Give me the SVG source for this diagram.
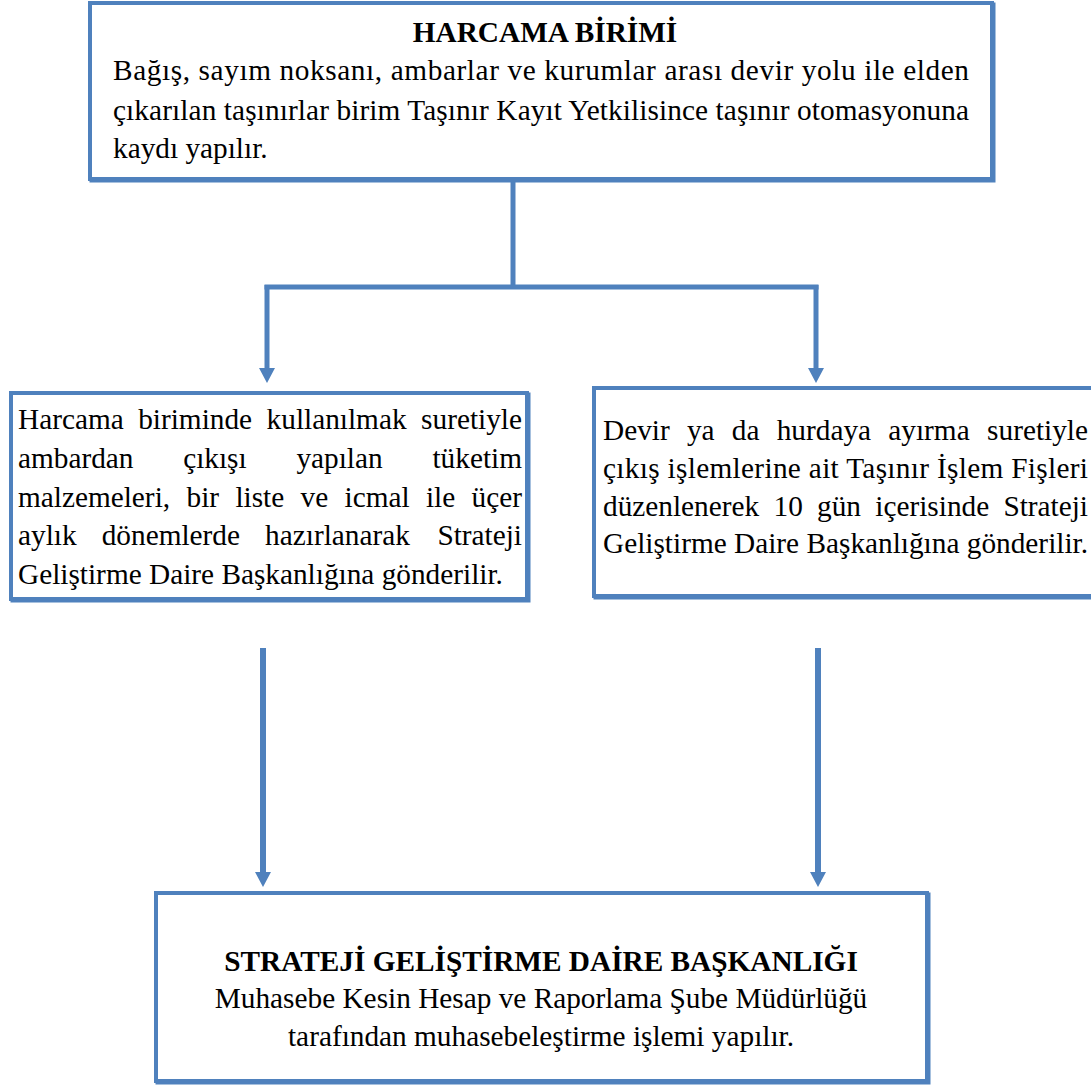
<svg xmlns="http://www.w3.org/2000/svg" width="1091" height="1086" viewBox="0 0 1091 1086">
  <style>
    .box { fill: #ffffff; stroke: #4F81BD; stroke-width: 4; }
    .shadow { fill: none; stroke: #4F81BD; stroke-width: 4; }
    .conn { stroke: #4F81BD; fill: none; }
    .t { font-family: "Liberation Serif", serif; font-size: 29.3px; font-weight: normal; fill: #000000; }
    .b { font-weight: bold; }
  </style>
  <defs>
    <marker id="ah" markerUnits="userSpaceOnUse" markerWidth="16" markerHeight="16" viewBox="0 0 15 16" refX="0" refY="8" orient="auto">
      <path d="M0,0 L15,8 L0,16 z" fill="#4F81BD"/>
    </marker>
  </defs>
  <rect width="1091" height="1086" fill="#ffffff"/>

  <g id="connectors">
    <line class="conn" x1="513" y1="181" x2="513" y2="289" stroke-width="5"/>
    <line class="conn" x1="264.5" y1="287" x2="818.5" y2="287" stroke-width="5"/>
    <line class="conn" x1="267" y1="285" x2="267" y2="368" stroke-width="5" marker-end="url(#ah)"/>
    <line class="conn" x1="816" y1="285" x2="816" y2="368" stroke-width="5" marker-end="url(#ah)"/>
    <line class="conn" x1="263" y1="648" x2="263" y2="872" stroke-width="6" marker-end="url(#ah)"/>
    <line class="conn" x1="818" y1="648" x2="818" y2="872" stroke-width="6" marker-end="url(#ah)"/>
  </g>

  <g id="node-harcama">
    <rect class="shadow" x="91.5" y="4.5" width="902" height="176"/>
    <rect class="box" x="90" y="3" width="902" height="176"/>
    <text class="t b" x="545" y="42" text-anchor="middle">HARCAMA BİRİMİ</text>
    <text class="t" x="113" y="80" textLength="856" lengthAdjust="spacing">Bağış, sayım noksanı, ambarlar ve kurumlar arası devir yolu ile elden</text>
    <text class="t" x="113" y="120" textLength="856" lengthAdjust="spacing">çıkarılan taşınırlar birim Taşınır Kayıt Yetkilisince taşınır otomasyonuna</text>
    <text class="t" x="113" y="158">kaydı yapılır.</text>
  </g>

  <g id="node-tuketim">
    <rect class="shadow" x="12.5" y="394.5" width="516" height="206"/>
    <rect class="box" x="11" y="393" width="516" height="206"/>
    <text class="t" y="429"><tspan x="18">Harcama</tspan><tspan x="138.2">biriminde</tspan><tspan x="266.6">kullanılmak</tspan><tspan x="522" text-anchor="end">suretiyle</tspan></text>
    <text class="t" y="467.8"><tspan x="18">ambardan</tspan><tspan x="183.2">çıkışı</tspan><tspan x="296.4">yapılan</tspan><tspan x="522" text-anchor="end">tüketim</tspan></text>
    <text class="t" y="506.5"><tspan x="18">malzemeleri,</tspan><tspan x="186.5">bir</tspan><tspan x="235.4">liste</tspan><tspan x="300.5">ve</tspan><tspan x="344.5">icmal</tspan><tspan x="425.9">ile</tspan><tspan x="522" text-anchor="end">üçer</tspan></text>
    <text class="t" y="545.3"><tspan x="18">aylık</tspan><tspan x="101.7">dönemlerde</tspan><tspan x="265.1">hazırlanarak</tspan><tspan x="522" text-anchor="end">Strateji</tspan></text>
    <text class="t" x="18" y="584">Geliştirme Daire Başkanlığına gönderilir.</text>
  </g>

  <g id="node-devir">
    <rect class="shadow" x="595.5" y="389.5" width="520" height="208"/>
    <rect class="box" x="594" y="388" width="520" height="208"/>
    <text class="t" y="440"><tspan x="603">Devir</tspan><tspan x="686.9">ya</tspan><tspan x="731.8">da</tspan><tspan x="776.7">hurdaya</tspan><tspan x="888.3">ayırma</tspan><tspan x="1088" text-anchor="end">suretiyle</tspan></text>
    <text class="t" x="603" y="478" textLength="485" lengthAdjust="spacing">çıkış işlemlerine ait Taşınır İşlem Fişleri</text>
    <text class="t" y="516"><tspan x="603">düzenlenerek</tspan><tspan x="773.5">10</tspan><tspan x="817">gün</tspan><tspan x="875.3">içerisinde</tspan><tspan x="1088" text-anchor="end">Strateji</tspan></text>
    <text class="t" x="603" y="553" textLength="485" lengthAdjust="spacing">Geliştirme Daire Başkanlığına gönderilir.</text>
  </g>

  <g id="node-sgdb">
    <rect class="shadow" x="157.5" y="894.5" width="771" height="188"/>
    <rect class="box" x="156" y="893" width="771" height="188"/>
    <text class="t b" x="541" y="971" text-anchor="middle">STRATEJİ GELİŞTİRME DAİRE BAŞKANLIĞI</text>
    <text class="t" x="541" y="1008" text-anchor="middle">Muhasebe Kesin Hesap ve Raporlama Şube Müdürlüğü</text>
    <text class="t" x="541" y="1046" text-anchor="middle">tarafından muhasebeleştirme işlemi yapılır.</text>
  </g>
</svg>
